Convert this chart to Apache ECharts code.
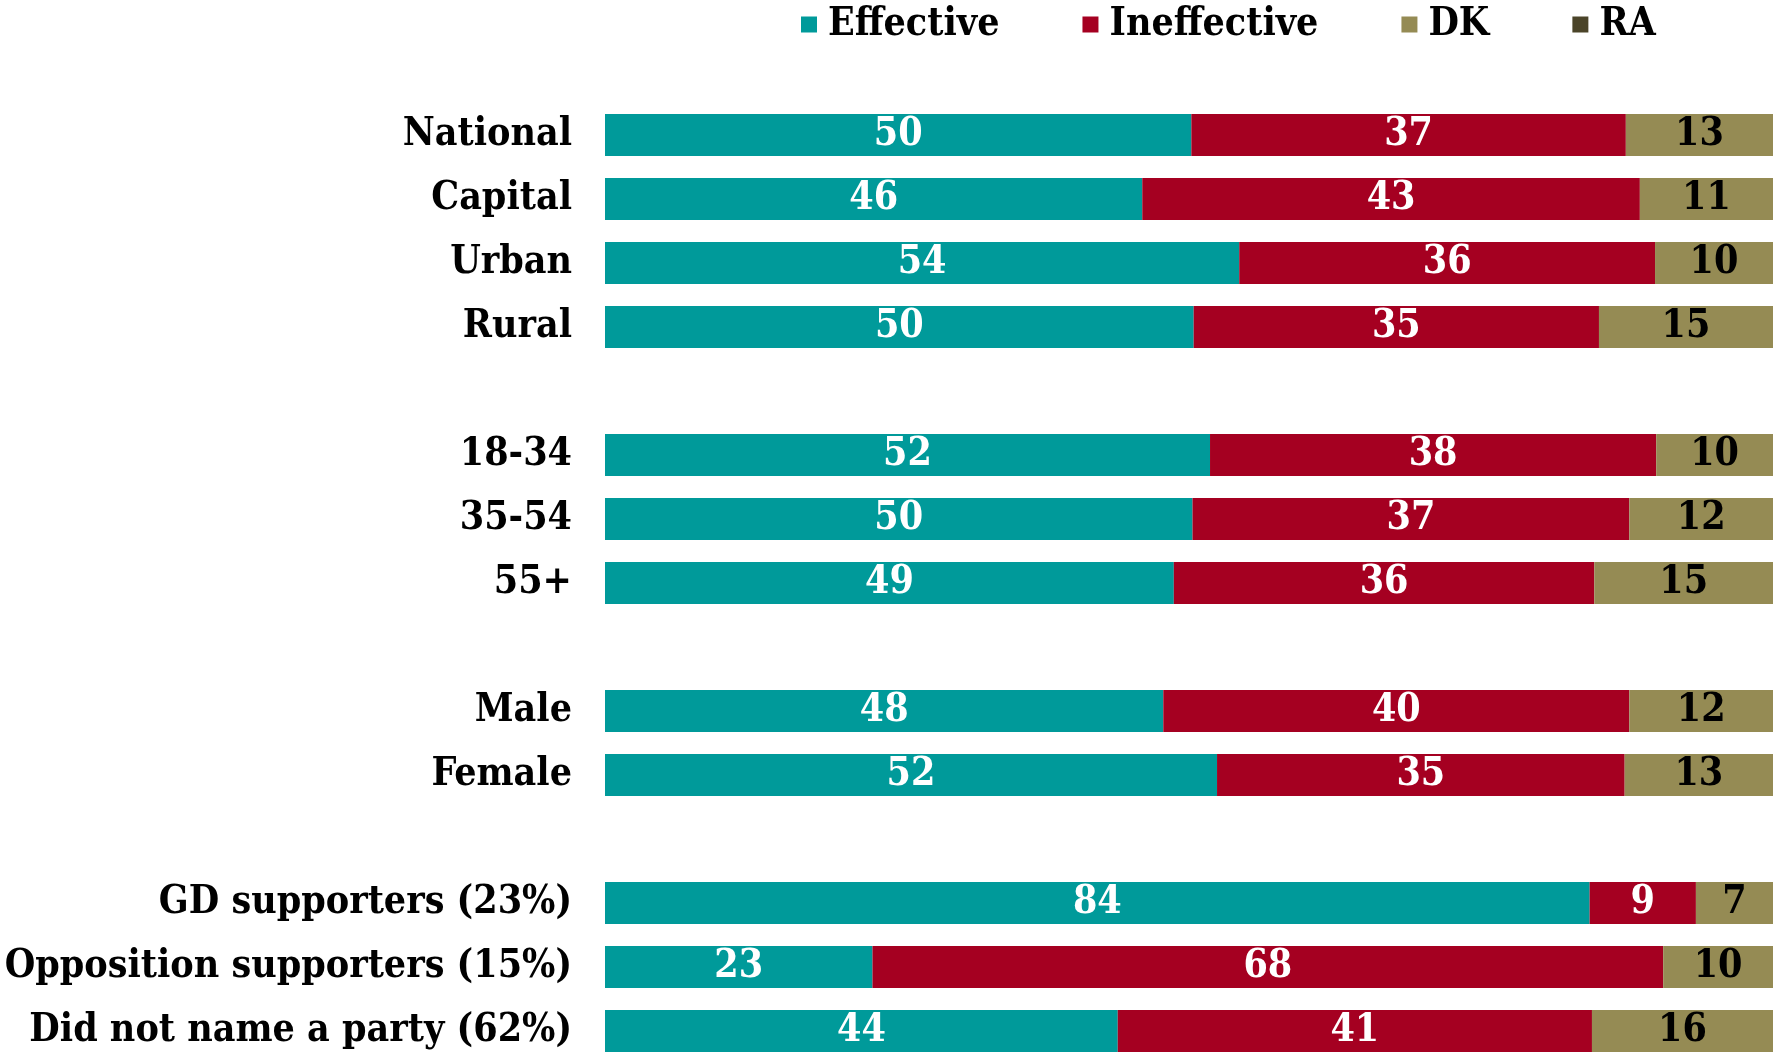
<!DOCTYPE html>
<html>
<head>
<meta charset="utf-8">
<script src="https://cdn.jsdelivr.net/npm/echarts@6/dist/echarts.min.js"></script>
<style>
  html, body { margin: 0; padding: 0; background: #fff; }
  #chart { width: 1773px; height: 1053px; }
</style>
</head>
<body>
<div id="chart"></div>
<script>
// rows, blank strings are the spacer rows between groups
var categories = ['National', 'Capital', 'Urban', 'Rural', '',
  '18-34', '35-54', '55+', '',
  'Male', 'Female', '',
  'GD supporters (23%)', 'Opposition supporters (15%)', 'Did not name a party (62%)'];

// shares in %; labels show them rounded
var effective   = [50.2, 46.0, 54.3, 50.4, '-', 51.8, 50.3, 48.7, '-', 47.8, 52.4, '-', 84.3, 22.9, 43.9];
var ineffective = [37.2, 42.6, 35.6, 34.7, '-', 38.2, 37.4, 36.0, '-', 39.9, 34.9, '-', 9.1, 67.7, 40.6];
var dk          = [12.6, 11.4, 10.1, 14.9, '-', 10.0, 12.3, 15.3, '-', 12.3, 12.7, '-', 6.6, 9.6, 15.6];
var ra          = [0, 0, 0, 0, '-', 0, 0, 0, '-', 0, 0, '-', 0, 0, 0];

var FONT = 'DejaVu Serif Condensed, DejaVu Serif, serif';

function makeSeries(name, data, color, labelColor, showLabel) {
  return {
    name: name,
    type: 'bar',
    stack: 'all',
    barWidth: '66%',
    data: data,
    itemStyle: { color: color },
    label: {
      show: showLabel,
      position: 'inside',
      color: labelColor,
      fontFamily: FONT,
      fontWeight: 'bold',
      fontSize: 39,
      padding: [4, 0, 0, 0],
      formatter: function (p) { return Math.round(p.value); }
    }
  };
}

var myChart = echarts.init(document.getElementById('chart'), null, {renderer: 'canvas'});
var option = {
  backgroundColor: '#fff',
  animation: false,
  legend: {
    top: 0,
    left: 796,
    itemWidth: 16,
    itemHeight: 16,
    itemGap: 83,
    icon: 'rect',
    textStyle: {
      fontFamily: FONT,
      fontWeight: 'bold',
      fontSize: 39,
      color: '#000',
      padding: [0, 0, 0, 6]
    },
    data: ['Effective', 'Ineffective', 'DK', 'RA']
  },
  grid: { left: 605, right: 0, top: 103, height: 960, outerBoundsMode: 'none' },
  xAxis: {
    type: 'value',
    min: 0,
    max: 100,
    show: false
  },
  yAxis: {
    type: 'category',
    inverse: true,
    data: categories,
    axisLine: { show: false },
    axisTick: { show: false },
    axisLabel: {
      margin: 33,
      color: '#000',
      fontFamily: FONT,
      fontWeight: 'bold',
      fontSize: 39,
      padding: [4, 0, 0, 0]
    }
  },
  series: [
    makeSeries('Effective', effective, '#009a9a', '#fff', true),
    makeSeries('Ineffective', ineffective, '#a50021', '#fff', true),
    makeSeries('DK', dk, '#958b54', '#000', true),
    makeSeries('RA', ra, '#4b4429', '#fff', false)
  ]
};
myChart.setOption(option);
</script>
</body>
</html>
